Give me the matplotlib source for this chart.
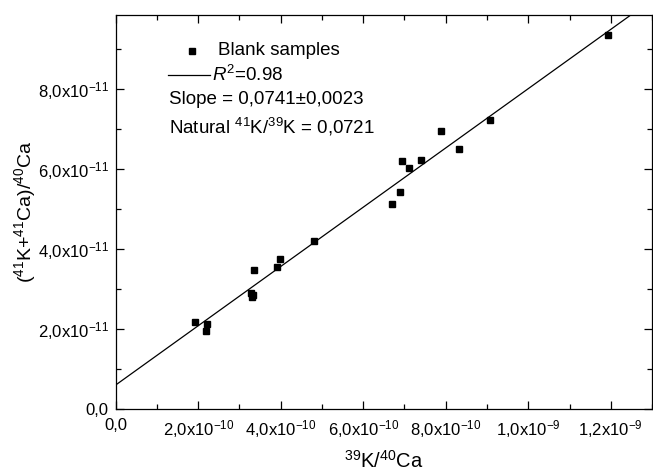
import numpy as np
import matplotlib
matplotlib.use("Agg")
import matplotlib.pyplot as plt
from matplotlib.ticker import MultipleLocator, FuncFormatter
from matplotlib.lines import Line2D

plt.rcParams["font.family"] = ["Liberation Sans", "DejaVu Sans"]
plt.rcParams["mathtext.fontset"] = "custom"
plt.rcParams["mathtext.rm"] = "Liberation Sans"
plt.rcParams["mathtext.it"] = "Liberation Sans:italic"
plt.rcParams["mathtext.bf"] = "Liberation Sans:bold"

# 39K/40Ca (x) e (41K+41Ca)/40Ca (y) dos brancos
k39_ca40 = np.array([1.93, 2.22, 2.19, 3.28, 3.30, 3.32, 3.35, 3.91, 3.98, 4.81,
                     6.69, 6.88, 6.94, 7.12, 7.40, 7.89, 8.33, 9.08, 11.93]) * 1e-10
k41_ca40 = np.array([2.17, 2.13, 1.96, 2.91, 2.80, 2.85, 3.47, 3.55, 3.74, 4.21,
                     5.13, 5.42, 6.20, 6.02, 6.22, 6.95, 6.50, 7.23, 9.34]) * 1e-11

slope = 0.0741
intercept = 0.6e-11

x_labels = {0: "0,0", 2: "2,0x10$^{-10}$", 4: "4,0x10$^{-10}$", 6: "6,0x10$^{-10}$",
            8: "8,0x10$^{-10}$", 10: "1,0x10$^{-9}$", 12: "1,2x10$^{-9}$"}
y_labels = {0: "0,0", 2: "2,0x10$^{-11}$", 4: "4,0x10$^{-11}$",
            6: "6,0x10$^{-11}$", 8: "8,0x10$^{-11}$"}

fig = plt.figure(figsize=(6.53, 4.72), dpi=100)
ax = fig.add_axes([0.1772, 0.1335, 0.8213, 0.8354])

xmin, xmax = 0, 1.3e-9
ymin, ymax = 0, 9.86e-11

xf = np.array([xmin, xmax])
ax.plot(xf, intercept + slope * xf, color="black", lw=0.9)
ax.plot(k39_ca40, k41_ca40, ls="none", marker="s", ms=4.3, color="black")

ax.set_xlim(xmin, xmax)
ax.set_ylim(ymin, ymax)

ax.xaxis.set_major_locator(MultipleLocator(2e-10))
ax.xaxis.set_minor_locator(MultipleLocator(1e-10))
ax.yaxis.set_major_locator(MultipleLocator(2e-11))
ax.yaxis.set_minor_locator(MultipleLocator(1e-11))
ax.xaxis.set_major_formatter(FuncFormatter(lambda v, p: x_labels.get(int(round(v / 1e-10)), "")))
ax.yaxis.set_major_formatter(FuncFormatter(lambda v, p: y_labels.get(int(round(v / 1e-11)), "")))

ax.tick_params(which="both", direction="in", top=True, right=True, width=0.9)
ax.tick_params(which="major", length=6, labelsize=12)
ax.tick_params(axis="x", which="major", pad=6.5)
ax.tick_params(axis="y", which="major", pad=5)
ax.tick_params(which="minor", length=3.5)
for s in ax.spines.values():
    s.set_linewidth(0.9)

ax.set_xlabel("$^{39}$K/$^{40}$Ca", fontsize=14.5, labelpad=7)
ax.set_ylabel("($^{41}$K+$^{41}$Ca)/$^{40}$Ca", fontsize=14, labelpad=0)

# legenda manual
fs = 13.5
ax.plot([0.1415], [0.909], marker="s", ms=4.3, color="black", transform=ax.transAxes)
ax.text(0.190, 0.909, "Blank samples", transform=ax.transAxes, fontsize=fs, va="center")
ax.add_line(Line2D([0.097, 0.175], [0.848, 0.848], color="black", lw=0.9,
                   transform=ax.transAxes))
ax.text(0.1787, 0.848, "$R^2$=0.98", transform=ax.transAxes, fontsize=fs, va="center")
ax.text(0.0995, 0.784, "Slope = 0,0741\u00b10,0023", transform=ax.transAxes,
        fontsize=fs, va="center")
ax.text(0.0995, 0.716, "Natural $^{41}$K/$^{39}$K = 0,0721", transform=ax.transAxes,
        fontsize=fs, va="center")

fig.savefig("out.png", dpi=100)
